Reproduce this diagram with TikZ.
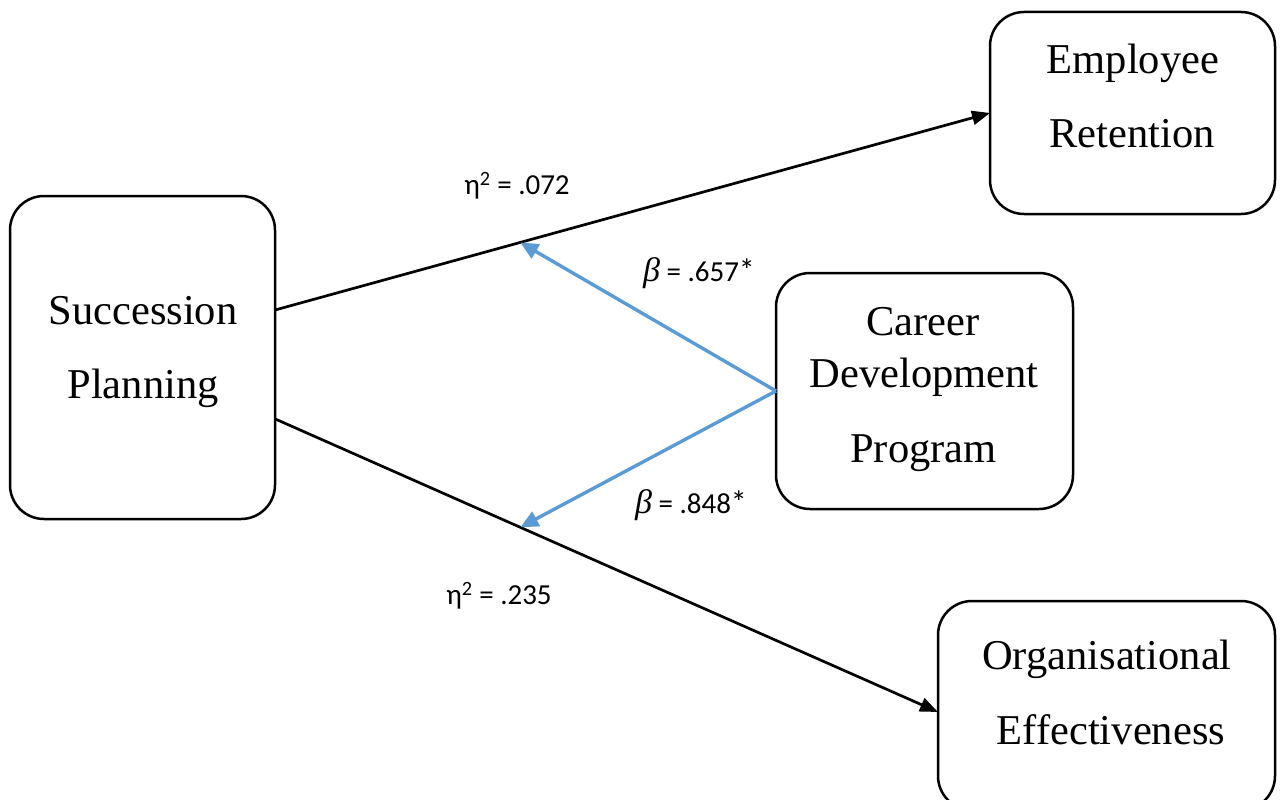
\documentclass[tikz,border=0pt]{standalone}
\usepackage{fontspec}
\setmainfont{Liberation Serif}
\newfontfamily\labfont{Carlito}
\newfontfamily\betafont{Liberation Serif}
\usetikzlibrary{arrows.meta,calc}
\definecolor{arrowblue}{RGB}{91,155,213}
\tikzset{
  box/.style={draw=black, line width=2.5pt, rounded corners=34pt, inner sep=0pt, outer sep=0pt},
  boxtext/.style={anchor=base, font=\fontsize{42.5}{50}\selectfont, inner sep=0pt},
  lbl/.style={font=\labfont\fontsize{29}{32}\selectfont, inner sep=0pt},
  mainarrow/.style={line width=2.7pt, -{Triangle[length=18pt,width=14pt]}},
  modarrow/.style={draw=arrowblue, line width=3.4pt, -{Triangle[length=18pt,width=16pt]}}
}
\newcommand{\betasym}{{\betafont\itshape\fontsize{34}{34}\selectfont β}}
\newcommand{\starsym}{{\fontsize{32}{32}\selectfont *}}
\begin{document}
\begin{tikzpicture}[x=1pt,y=-1pt]
\useasboundingbox (0,0) rectangle (1283,800);
% boxes
\node[box, minimum width=265pt, minimum height=323pt] (sp) at (142.5,357.5) {};
\node[box, minimum width=285pt, minimum height=202pt] (er) at (1132.5,113) {};
\node[box, minimum width=297pt, minimum height=236pt] (cdp) at (924.5,391) {};
\node[box, minimum width=337pt, minimum height=209pt] (oe) at (1106.5,705.5) {};
% box texts
\node[boxtext] (sp1) at (143,324) {Succession};
\node[boxtext] (sp2) at (143,398) {Planning};
\node[boxtext] (er1) at (1133,74) {Employee};
\node[boxtext] (er2) at (1132,147) {Retention};
\node[boxtext] (cdp1) at (923,335) {Career};
\node[boxtext] (cdp2) at (924,387) {Development};
\node[boxtext] (cdp3) at (923.5,462) {Program};
\node[boxtext] (oe1) at (1107,669) {Organisational};
\node[boxtext] (oe2) at (1111,744) {Effectiveness};
% main paths
\draw[mainarrow] ($(sp.north east)!0.353!(sp.south east)$) -- (er.west) coordinate[pos=0.343] (m1);
\draw[mainarrow] ($(sp.north east)!0.690!(sp.south east)$) -- ($(oe.north west)!0.531!(oe.south west)$) coordinate[pos=0.370] (m2);
% moderation paths
\draw[modarrow] (cdp.west) -- (m1);
\draw[modarrow] (cdp.west) -- (m2);
% labels
\node[lbl] (l1) at (517,186) {η\textsuperscript{2} = .072};
\node[lbl] (l2) at (699,273) {\betasym{} = .657\starsym};
\node[lbl] (l3) at (691,505) {\betasym{} = .848\starsym};
\node[lbl] (l4) at (499,596) {η\textsuperscript{2} = .235};
\end{tikzpicture}
\end{document}
